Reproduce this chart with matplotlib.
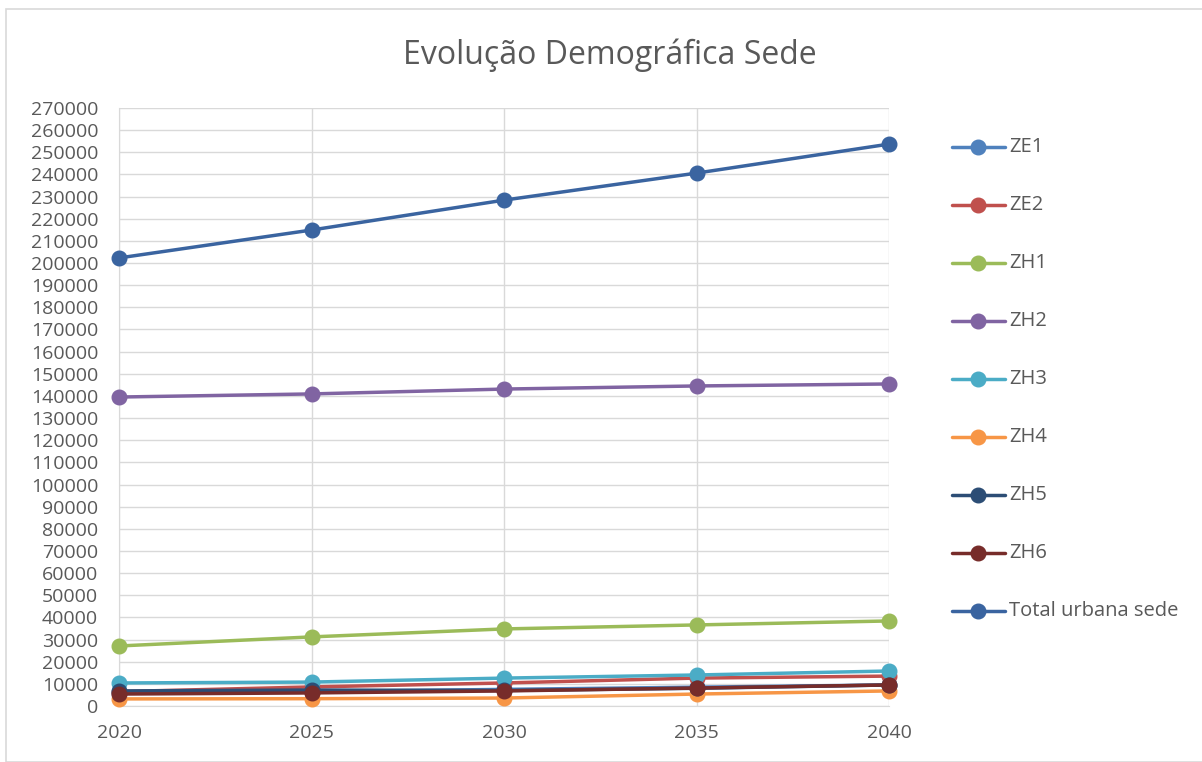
import matplotlib.pyplot as plt
from matplotlib.patches import Rectangle
from matplotlib.lines import Line2D

plt.rcParams['font.family'] = ['Open Sans', 'DejaVu Sans']

# dados
anos = [2020, 2025, 2030, 2035, 2040]
ze1 = [5800, 6500, 7500, 8500, 9500]
ze2 = [6500, 8600, 10400, 12600, 13500]
zh1 = [27100, 31200, 34800, 36600, 38400]
zh2 = [139500, 140900, 143100, 144500, 145400]
zh3 = [10400, 10800, 12600, 14000, 15800]
zh4 = [3200, 3300, 3600, 5400, 6800]
zh5 = [6800, 7200, 7000, 8000, 9500]
zh6 = [5400, 5900, 6800, 8100, 9500]
total = [202300, 214900, 228400, 240600, 253700]

series = [
    ('ZE1', ze1, '#4F81BD'),
    ('ZE2', ze2, '#C0504D'),
    ('ZH1', zh1, '#9BBB59'),
    ('ZH2', zh2, '#8064A2'),
    ('ZH3', zh3, '#4BACC6'),
    ('ZH4', zh4, '#F79646'),
    ('ZH5', zh5, '#2C4D75'),
    ('ZH6', zh6, '#772C2A'),
    ('Total urbana sede', total, '#3A64A0'),
]

W, H = 1202, 762
fig = plt.figure(figsize=(W / 100, H / 100), dpi=100)
# área do gráfico em pixels: esq 119, dir 889, topo 108, base 706
ax = fig.add_axes([119 / W, 1 - 706 / H, (889 - 119) / W, (706 - 108) / H])

# moldura do gráfico
fig.patches.append(Rectangle((6 / W, 0), 1.0, 1 - 9 / H, transform=fig.transFigure,
                             fill=False, edgecolor='#D9D9D9', linewidth=1.2))

for nome, vals, cor in series:
    ax.plot(anos, vals, color=cor, linewidth=2.5, marker='o', markersize=10.5,
            label=nome, solid_capstyle='round', clip_on=False, zorder=3)

ax.set_xlim(2020, 2040)
ax.set_ylim(0, 270000)
ax.set_xticks(anos)
ax.set_yticks(range(0, 270001, 10000))
ax.grid(True, color='#D9D9D9', linewidth=1)
ax.set_axisbelow(True)
for s in ['top', 'right']:
    ax.spines[s].set_visible(False)
for s in ['left', 'bottom']:
    ax.spines[s].set_color('#D9D9D9')
ax.tick_params(length=0, labelsize=14, labelcolor='#595959')
ax.tick_params(axis='x', pad=13)
ax.tick_params(axis='y', pad=15)

fig.text(610 / W, 1 - 55 / H, 'Evolução Demográfica Sede', ha='center', va='center',
         fontsize=23, color='#595959')

# legenda
for i, (nome, vals, cor) in enumerate(series):
    y = 1 - (147 + 58 * i) / H
    fig.add_artist(Line2D([952 / W, 1005 / W], [y, y], transform=fig.transFigure,
                          color=cor, linewidth=2.5, solid_capstyle='round'))
    fig.add_artist(Line2D([978 / W], [y], transform=fig.transFigure, color=cor,
                          marker='o', markersize=10.5))
    fig.text(1009 / W, y, nome, ha='left', va='center', fontsize=14.5, color='#595959')

plt.savefig('out.png', dpi=100, facecolor='white')
plt.close()
